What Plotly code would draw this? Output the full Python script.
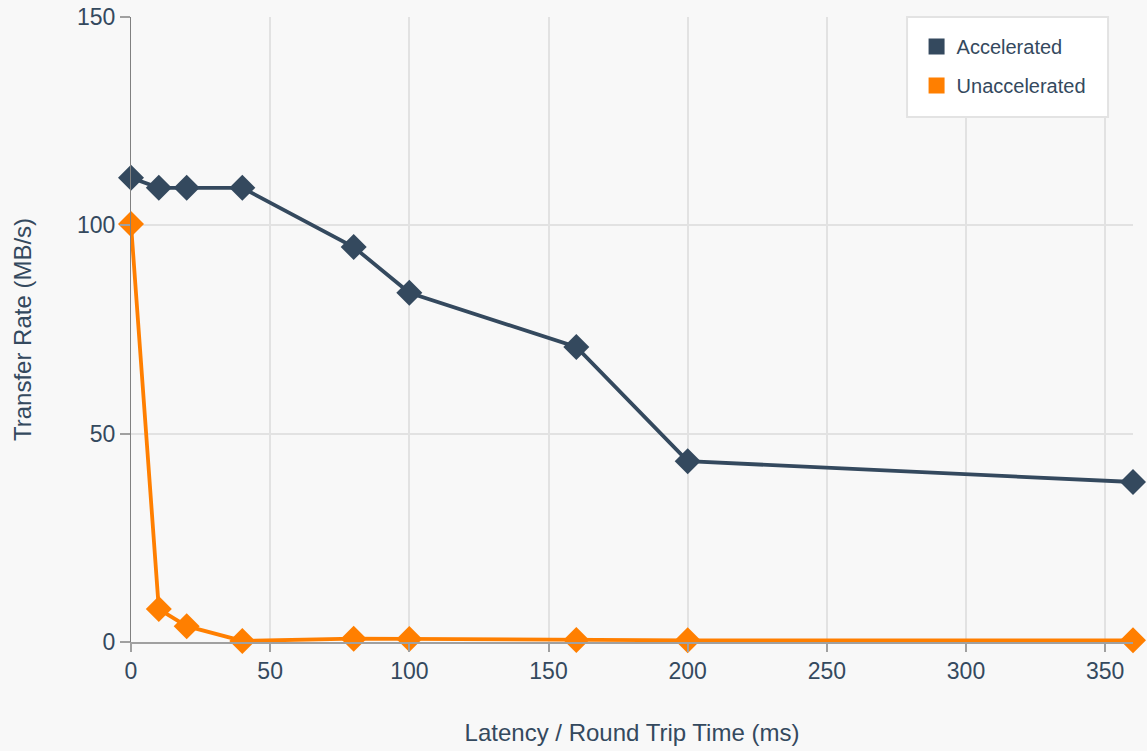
import plotly.graph_objects as go

latency_ms = [0, 10, 20, 40, 80, 100, 160, 200, 360]
accelerated = [111.4, 109, 109, 109, 94.8, 83.8, 70.8, 43.4, 38.4]
unaccelerated = [100.3, 7.9, 3.8, 0.25, 0.8, 0.7, 0.5, 0.4, 0.4]

series_names = ["Accelerated", "Unaccelerated"]
series_colors = ["#34495e", "#ff7f00"]

x_ticks = [0, 50, 100, 150, 200, 250, 300, 350]
y_ticks = [0, 50, 100, 150]

text_color = "#34495e"
font_family = "Liberation Sans, Arial, sans-serif"

fig = go.Figure()

for name, vals, col in zip(series_names, [accelerated, unaccelerated], series_colors):
    fig.add_trace(go.Scatter(
        x=latency_ms, y=vals, mode="lines+markers", name=name,
        line=dict(color=col, width=3.8),
        marker=dict(symbol="diamond", size=20, color=col),
        showlegend=False, cliponaxis=False,
    ))

# legend-only entries with square swatches
for i, (name, col) in enumerate(zip(series_names, series_colors)):
    fig.add_trace(go.Scatter(
        x=[None], y=[None], mode="markers", name=name,
        marker=dict(symbol="square", size=19, color=col),
        legendgroup=f"g{i}", showlegend=True,
    ))

# legend frame (plot-area fraction coordinates)
fig.add_shape(
    type="rect", xref="x domain", yref="y domain",
    x0=0.7745, x1=0.9751, y0=0.84, y1=1.0,
    fillcolor="#ffffff", line=dict(color="#e3e3e3", width=2), layer="above",
)

fig.update_layout(
    width=1147, height=751,
    margin=dict(l=131, r=14, t=17, b=109),
    paper_bgcolor="#f8f8f8", plot_bgcolor="#f8f8f8",
    font=dict(family=font_family, color=text_color, size=20),
    legend=dict(
        x=0.784, y=0.984, xanchor="left", yanchor="top",
        bgcolor="rgba(0,0,0,0)", borderwidth=0,
        font=dict(size=20, color=text_color),
        traceorder="grouped", tracegroupgap=10,
    ),
    xaxis=dict(
        range=[0, 360], tickvals=x_ticks, showgrid=True, gridcolor="#e2e2e2", gridwidth=1.5,
        zeroline=False, showline=True, linecolor="#a0a0a0", linewidth=1.5,
        ticks="outside", ticklen=8, tickcolor="#a0a0a0", tickwidth=1.5,
        tickfont=dict(size=23, color=text_color), automargin=False,
        title=dict(text="Latency / Round Trip Time (ms)", font=dict(size=24, color=text_color), standoff=41),
    ),
    yaxis=dict(
        range=[0, 150], tickvals=y_ticks, showgrid=True, gridcolor="#e2e2e2", gridwidth=1.5,
        zeroline=False, showline=True, linecolor="#808080", linewidth=1,
        ticks="outside", ticklen=10, tickcolor="#a0a0a0", tickwidth=1.5,
        tickfont=dict(size=23, color=text_color), automargin=False,
        title=dict(text="Transfer Rate (MB/s)", font=dict(size=24, color=text_color), standoff=38),
    ),
)

fig.write_html(
    "out.html",
    config={"displayModeBar": False},
    post_script="document.body.style.margin='0';document.body.style.background='#f8f8f8';",
)
